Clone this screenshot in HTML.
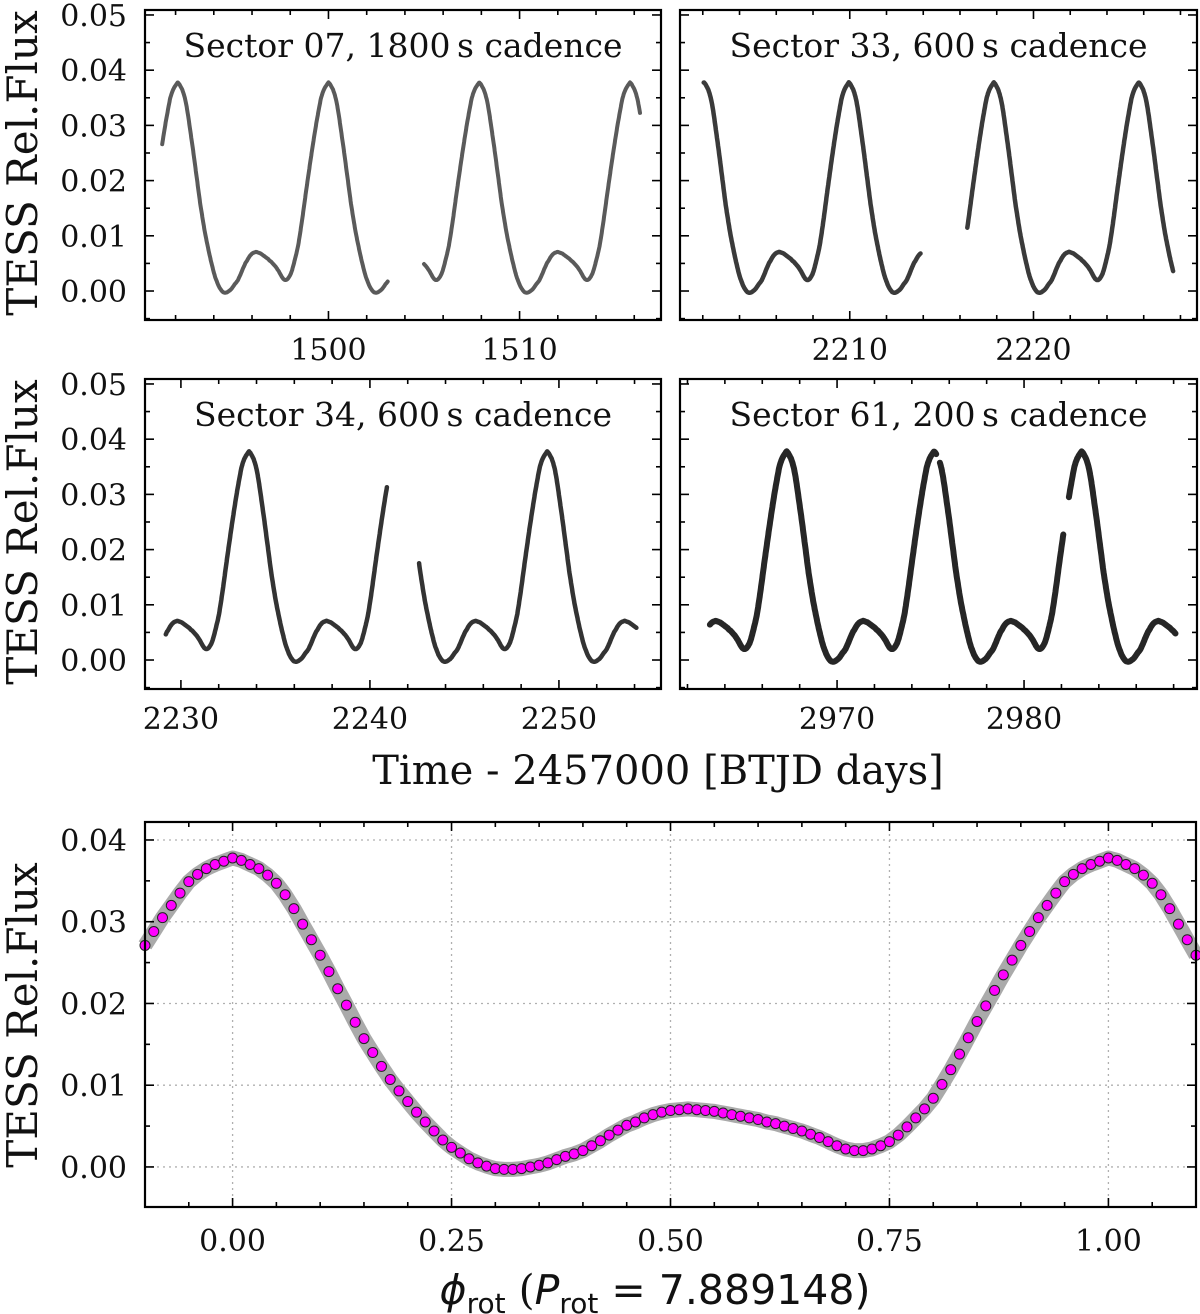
<!DOCTYPE html>
<html><head><meta charset="utf-8"><style>
html,body{margin:0;padding:0;background:#fff;}
svg{display:block;font-family:"DejaVu Serif","Liberation Serif",serif;}
</style></head><body>
<svg id="fig" width="1200" height="1314" viewBox="0 0 1200 1314" xmlns="http://www.w3.org/2000/svg">
<g id="layer"></g>
</svg>
<script>
// ---- data ----
const periodDays = 7.889148;
// binned phase-folded flux, phase 0.00 .. 0.99 step 0.01
const foldFlux = [
0.0378,0.0375,0.0370,0.0365,0.0357,0.0347,0.0333,0.0316,0.0297,0.0278,
0.0259,0.0239,0.0218,0.0198,0.0177,0.0157,0.0140,0.0123,0.0107,0.0093,
0.0080,0.0067,0.0055,0.0044,0.0033,0.0024,0.0017,0.0010,0.0005,0.0001,
-0.0002,-0.0003,-0.0003,-0.0002,0.0000,0.0002,0.0005,0.0009,0.0013,0.0016,
0.0020,0.0026,0.0032,0.0039,0.0045,0.0051,0.0055,0.0060,0.0064,0.0067,
0.0069,0.0070,0.0071,0.0070,0.0069,0.0068,0.0066,0.0064,0.0062,0.0060,
0.0058,0.0055,0.0053,0.0050,0.0047,0.0044,0.0040,0.0036,0.0031,0.0026,
0.0022,0.0020,0.0020,0.0022,0.0026,0.0031,0.0039,0.0049,0.0060,0.0071,
0.0084,0.0101,0.0119,0.0138,0.0158,0.0178,0.0197,0.0216,0.0235,0.0253,
0.0271,0.0288,0.0305,0.0320,0.0335,0.0349,0.0358,0.0365,0.0370,0.0374];
const s07Segments = [[1491.3,1503.1],[1505.0,1516.3]];
const s07Epoch = 1500.0;
const s33Segments = [[2202.05,2213.85],[2216.4,2227.6]];
const s33Epoch = 2209.95;
const s34Segments = [[2229.2,2240.9],[2242.6,2254.1]];
const s34Epoch = 2233.6;
const s61Segments = [[2963.2,2975.3],[2975.5,2982.1],[2982.4,2988.1]];
const s61Epoch = 2967.3;
const s07Ticks = [1500,1510];
const s33Ticks = [2210,2220];
const s34Ticks = [2230,2240,2250];
const s61Ticks = [2970,2980];
const fluxTicks = [0.00,0.01,0.02,0.03,0.04,0.05];
const foldXTicks = [0.00,0.25,0.50,0.75,1.00];
const foldYTicks = [0.00,0.01,0.02,0.03,0.04];

// ---- helpers ----
const NS="http://www.w3.org/2000/svg";
const layer=document.getElementById('layer');
function mk(tag,attrs,parent){const e=document.createElementNS(NS,tag);for(const k in attrs)e.setAttribute(k,attrs[k]);(parent||layer).appendChild(e);return e;}
function foldAt(ph){ph=((ph%1)+1)%1;const i=ph*foldFlux.length;const i0=Math.floor(i)%foldFlux.length;const f=i-Math.floor(i);return foldFlux[i0]*(1-f)+foldFlux[(i0+1)%foldFlux.length]*f;}
function fmt(v,d){return v.toFixed(d);}

function panel(cfg){
  const g=mk('g',{});
  
  
  const sx=v=>cfg.x0+(v-cfg.xmin)/(cfg.xmax-cfg.xmin)*(cfg.x1-cfg.x0);
  const sy=v=>cfg.y1-(v-cfg.ymin)/(cfg.ymax-cfg.ymin)*(cfg.y1-cfg.y0);
  return {g,sx,sy};
}
function frame(p,cfg){
  const r=mk('rect',{x:cfg.x0,y:cfg.y0,width:cfg.x1-cfg.x0,height:cfg.y1-cfg.y0,fill:'none',stroke:'#000','stroke-width':2.2},p.g);
  
  
}
function xticks(p,cfg,major,minorStep,labels,labelY,dec){
  const start=Math.ceil(cfg.xmin/minorStep)*minorStep;
  for(let v=start;v<=cfg.xmax+1e-9;v+=minorStep){
    const isMaj=major.some(m=>Math.abs(m-v)<1e-6);
    const L=isMaj?9:5, x=p.sx(v);
    mk('line',{x1:x,x2:x,y1:cfg.y1,y2:cfg.y1-L,stroke:'#000','stroke-width':1.6},p.g);
    mk('line',{x1:x,x2:x,y1:cfg.y0,y2:cfg.y0+L,stroke:'#000','stroke-width':1.6},p.g);
  }
  if(labels){major.forEach(m=>{
    const t=mk('text',{x:p.sx(m),y:labelY,'text-anchor':'middle','font-size':30,fill:'#111'},p.g);
    t.textContent=fmt(m,dec);
    
    
  });}
}
function yticks(p,cfg,major,minorStep,labels){
  const start=Math.ceil((cfg.ymin-1e-9)/minorStep)*minorStep;
  for(let v=start;v<=cfg.ymax+1e-9;v+=minorStep){
    const isMaj=major.some(m=>Math.abs(m-v)<1e-7);
    const L=isMaj?9:5, y=p.sy(v);
    mk('line',{x1:cfg.x0,x2:cfg.x0+L,y1:y,y2:y,stroke:'#000','stroke-width':1.6},p.g);
    mk('line',{x1:cfg.x1,x2:cfg.x1-L,y1:y,y2:y,stroke:'#000','stroke-width':1.6},p.g);
  }
  if(labels){major.forEach(m=>{
    const t=mk('text',{x:cfg.x0-18,y:p.sy(m)+11,'text-anchor':'end','font-size':30,fill:'#111'},p.g);
    t.textContent=fmt(m,2);
    
    
  });}
}
function timePanel(cfg,segments,epoch,ticks,title,color,width,showY,labelY){
  const p=panel(cfg);
  segments.forEach(seg=>{
    let d='';
    for(let t=seg[0];t<=seg[1]+1e-9;t+=0.02){
      const v=foldAt((t-epoch)/periodDays);
      d+=(d?'L':'M')+p.sx(t).toFixed(1)+','+p.sy(v).toFixed(1);
    }
    const path=mk('path',{d:d,fill:'none',stroke:color,'stroke-width':width,'stroke-linejoin':'round','stroke-linecap':'round'},p.g);
    
    
  });
  frame(p,cfg);
  xticks(p,cfg,ticks,2,true,labelY,0);
  yticks(p,cfg,fluxTicks,0.005,showY);
  const tt=mk('text',{x:(cfg.x0+cfg.x1)/2,y:cfg.y0+47,'text-anchor':'middle','font-size':33,fill:'#111'},p.g);
  tt.textContent=title;
  
  
}

// ---- time-series panels ----
const topY={y0:10,y1:320,ymin:-0.00525,ymax:0.0509};
const midY={y0:379,y1:689,ymin:-0.00525,ymax:0.0509};
timePanel(Object.assign({name:'sector-07-panel',x0:145,x1:661,xmin:1490.4,xmax:1517.4},topY),s07Segments,s07Epoch,s07Ticks,'Sector 07, 1800\u2009s cadence','#5a5a5a',4,true,360);
timePanel(Object.assign({name:'sector-33-panel',x0:680,x1:1197,xmin:2200.76,xmax:2228.9},topY),s33Segments,s33Epoch,s33Ticks,'Sector 33, 600\u2009s cadence','#3a3a3a',4.5,false,360);
timePanel(Object.assign({name:'sector-34-panel',x0:145,x1:661,xmin:2228.1,xmax:2255.4},midY),s34Segments,s34Epoch,s34Ticks,'Sector 34, 600\u2009s cadence','#333',4.5,true,729);
timePanel(Object.assign({name:'sector-61-panel',x0:680,x1:1197,xmin:2961.6,xmax:2989.25},midY),s61Segments,s61Epoch,s61Ticks,'Sector 61, 200\u2009s cadence','#262626',6,false,729);

// ---- phase-folded panel ----
const fcfg={name:'phase-folded-panel',x0:145,x1:1196,y0:822,y1:1207,xmin:-0.1,xmax:1.1,ymin:-0.0049,ymax:0.0422};
const fp=panel(fcfg);
foldXTicks.forEach(v=>{const l=mk('line',{x1:fp.sx(v),x2:fp.sx(v),y1:fcfg.y0,y2:fcfg.y1,stroke:'#b0b0b0','stroke-width':1.3,'stroke-dasharray':'2,4'},fp.g);});
foldYTicks.forEach(v=>{const l=mk('line',{x1:fcfg.x0,x2:fcfg.x1,y1:fp.sy(v),y2:fp.sy(v),stroke:'#b0b0b0','stroke-width':1.3,'stroke-dasharray':'2,4'},fp.g);});
(function(){
  let d='';
  for(let ph=-0.1;ph<=1.1+1e-9;ph+=0.005){d+=(d?'L':'M')+fp.sx(ph).toFixed(1)+','+fp.sy(foldAt(ph)).toFixed(1);}
  const band=mk('path',{d:d,fill:'none',stroke:'#aaaaaa','stroke-width':15,'stroke-linejoin':'round'},fp.g);
  
  
})();
for(let k=-10;k<=110;k++){
  const ph=k/100;
  const v=foldFlux[((k%100)+100)%100];
  const c=mk('circle',{cx:fp.sx(ph),cy:fp.sy(v),r:5,fill:'#ff00ff',stroke:'#222','stroke-width':1},fp.g);
  
  
}
frame(fp,fcfg);
xticks(fp,fcfg,foldXTicks,0.05,true,1251,2);
yticks(fp,fcfg,foldYTicks,0.005,true);

// ---- axis titles ----
function ylab(cy,name){
  const t=mk('text',{x:0,y:0,transform:`translate(37,${cy}) rotate(-90)`,'text-anchor':'middle','font-size':42,fill:'#111'});
  t.textContent='TESS Rel.Flux';
  
  
}
ylab(163,'y-axis-title-top');
ylab(532,'y-axis-title-middle');
ylab(1015,'y-axis-title-bottom');
const xl=mk('text',{x:658,y:784,'text-anchor':'middle','font-size':40,fill:'#111'});
xl.textContent='Time - 2457000 [BTJD days]';


const pl=mk('text',{x:655,y:1304,'text-anchor':'middle','font-size':41,fill:'#111'});


pl.innerHTML='<tspan font-style="italic" font-family="DejaVu Sans,sans-serif">ϕ</tspan><tspan font-family="DejaVu Sans,sans-serif" font-size="28" dy="9">rot</tspan><tspan dy="-9"> (</tspan><tspan font-style="italic" font-family="DejaVu Sans,sans-serif">P</tspan><tspan font-family="DejaVu Sans,sans-serif" font-size="28" dy="9">rot</tspan><tspan dy="-9" font-family="DejaVu Sans,sans-serif"> = 7.889148)</tspan>';
</script>
</body></html>
